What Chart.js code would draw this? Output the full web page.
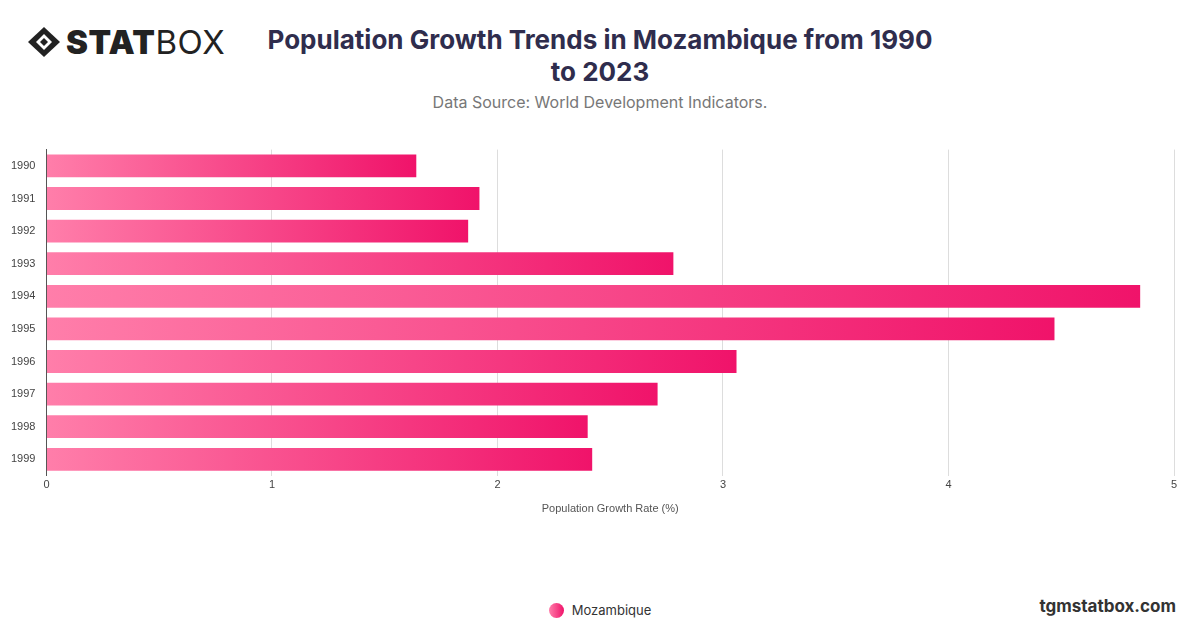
<!DOCTYPE html>
<html>
<head>
<meta charset="utf-8">
<script src="https://cdn.jsdelivr.net/npm/chart.js@4"></script>
<style>
  body { margin: 0; width: 1200px; height: 628px; background: #fff; font-family: Inter, sans-serif; position: relative; overflow: hidden; }
  .logo { position: absolute; left: 26px; top: 22px; font-size: 33px; color: #222; letter-spacing: 0.5px; display: flex; align-items: center; }
  .logo b { font-weight: 900; }
  .logo span { font-weight: 400; }
  .title { position: absolute; left: 250px; width: 700px; top: 24px; text-align: center; font-size: 26px; font-weight: 700; color: #2f2d4d; line-height: 32px; }
  .title div { width: 640px; margin: 0 auto; }
  .sub { position: absolute; left: 0; width: 1200px; top: 92px; text-align: center; font-size: 16px; color: #777; }
  .site { position: absolute; right: 24px; top: 596px; font-size: 17px; font-weight: 700; color: #333; }
  .wrap { position: absolute; left: 0; top: 140px; width: 1200px; height: 380px; }
  .legend { position: absolute; left: 0; width: 1200px; top: 602px; text-align: center; font-size: 13px; color: #333; }
  .legend i { display: inline-block; width: 15px; height: 15px; border-radius: 50%; background: linear-gradient(90deg, #ff7eaa, #f0136a); vertical-align: -3px; margin-right: 8px; }
</style>
</head>
<body>
<div class="logo">
  <svg width="36" height="32" viewBox="0 0 36 32" style="margin-right:4px">
    <polygon points="18,1 34,16 18,31 2,16" fill="#222"/>
    <polygon points="18,8 26,16 18,24 10,16" fill="#fff"/>
    <polygon points="18,12 22,16 18,20 14,16" fill="#222"/>
  </svg>
  <b>STAT</b><span>BOX</span>
</div>
<div class="title">Population Growth Trends in Mozambique from 1990<br>to 2023</div>
<div class="sub">Data Source: World Development Indicators.</div>
<div class="site">tgmstatbox.com</div>
<div class="wrap"><canvas id="c" width="1200" height="380"></canvas></div>
<div class="legend" id="legend"></div>
<script>
var years = ['1990', '1991', '1992', '1993', '1994', '1995', '1996', '1997', '1998', '1999'];
var growth = [1.64, 1.92, 1.87, 2.78, 4.85, 4.47, 3.06, 2.71, 2.40, 2.42];
var seriesName = 'Mozambique';

function barFill(context) {
    var chart = context.chart;
    var area = chart.chartArea;
    if (!area) { return '#f0186c'; }
    var x1 = chart.scales.x.getPixelForValue(growth[context.dataIndex] || 0);
    var g = chart.ctx.createLinearGradient(area.left, 0, Math.max(x1, area.left + 1), 0);
    g.addColorStop(0, '#ff7eaa');
    g.addColorStop(1, '#f0136a');
    return g;
}

var chart = new Chart(document.getElementById('c'), {
    type: 'bar',
    data: {
        labels: years,
        datasets: [{
            label: seriesName,
            data: growth,
            backgroundColor: barFill,
            borderWidth: 0,
            barPercentage: 0.7,
            categoryPercentage: 1
        }]
    },
    options: {
        indexAxis: 'y',
        responsive: false,
        animation: false,
        layout: { padding: { left: 8, right: 26, top: 8, bottom: 0 } },
        plugins: { legend: { display: false }, tooltip: { enabled: false } },
        scales: {
            x: {
                min: 0, max: 5,
                ticks: { stepSize: 1, color: '#444', font: { size: 11 } },
                grid: { color: '#dddddd', drawTicks: false },
                border: { display: false },
                title: { display: true, text: 'Population Growth Rate (%)', color: '#555', font: { size: 11 }, padding: { top: 8 } }
            },
            y: {
                ticks: { color: '#444', font: { size: 11 } },
                grid: { display: false },
                border: { display: true, color: '#555' }
            }
        }
    }
});

document.getElementById('legend').innerHTML = '<i></i>' + chart.data.datasets[0].label;
</script>
</body>
</html>
